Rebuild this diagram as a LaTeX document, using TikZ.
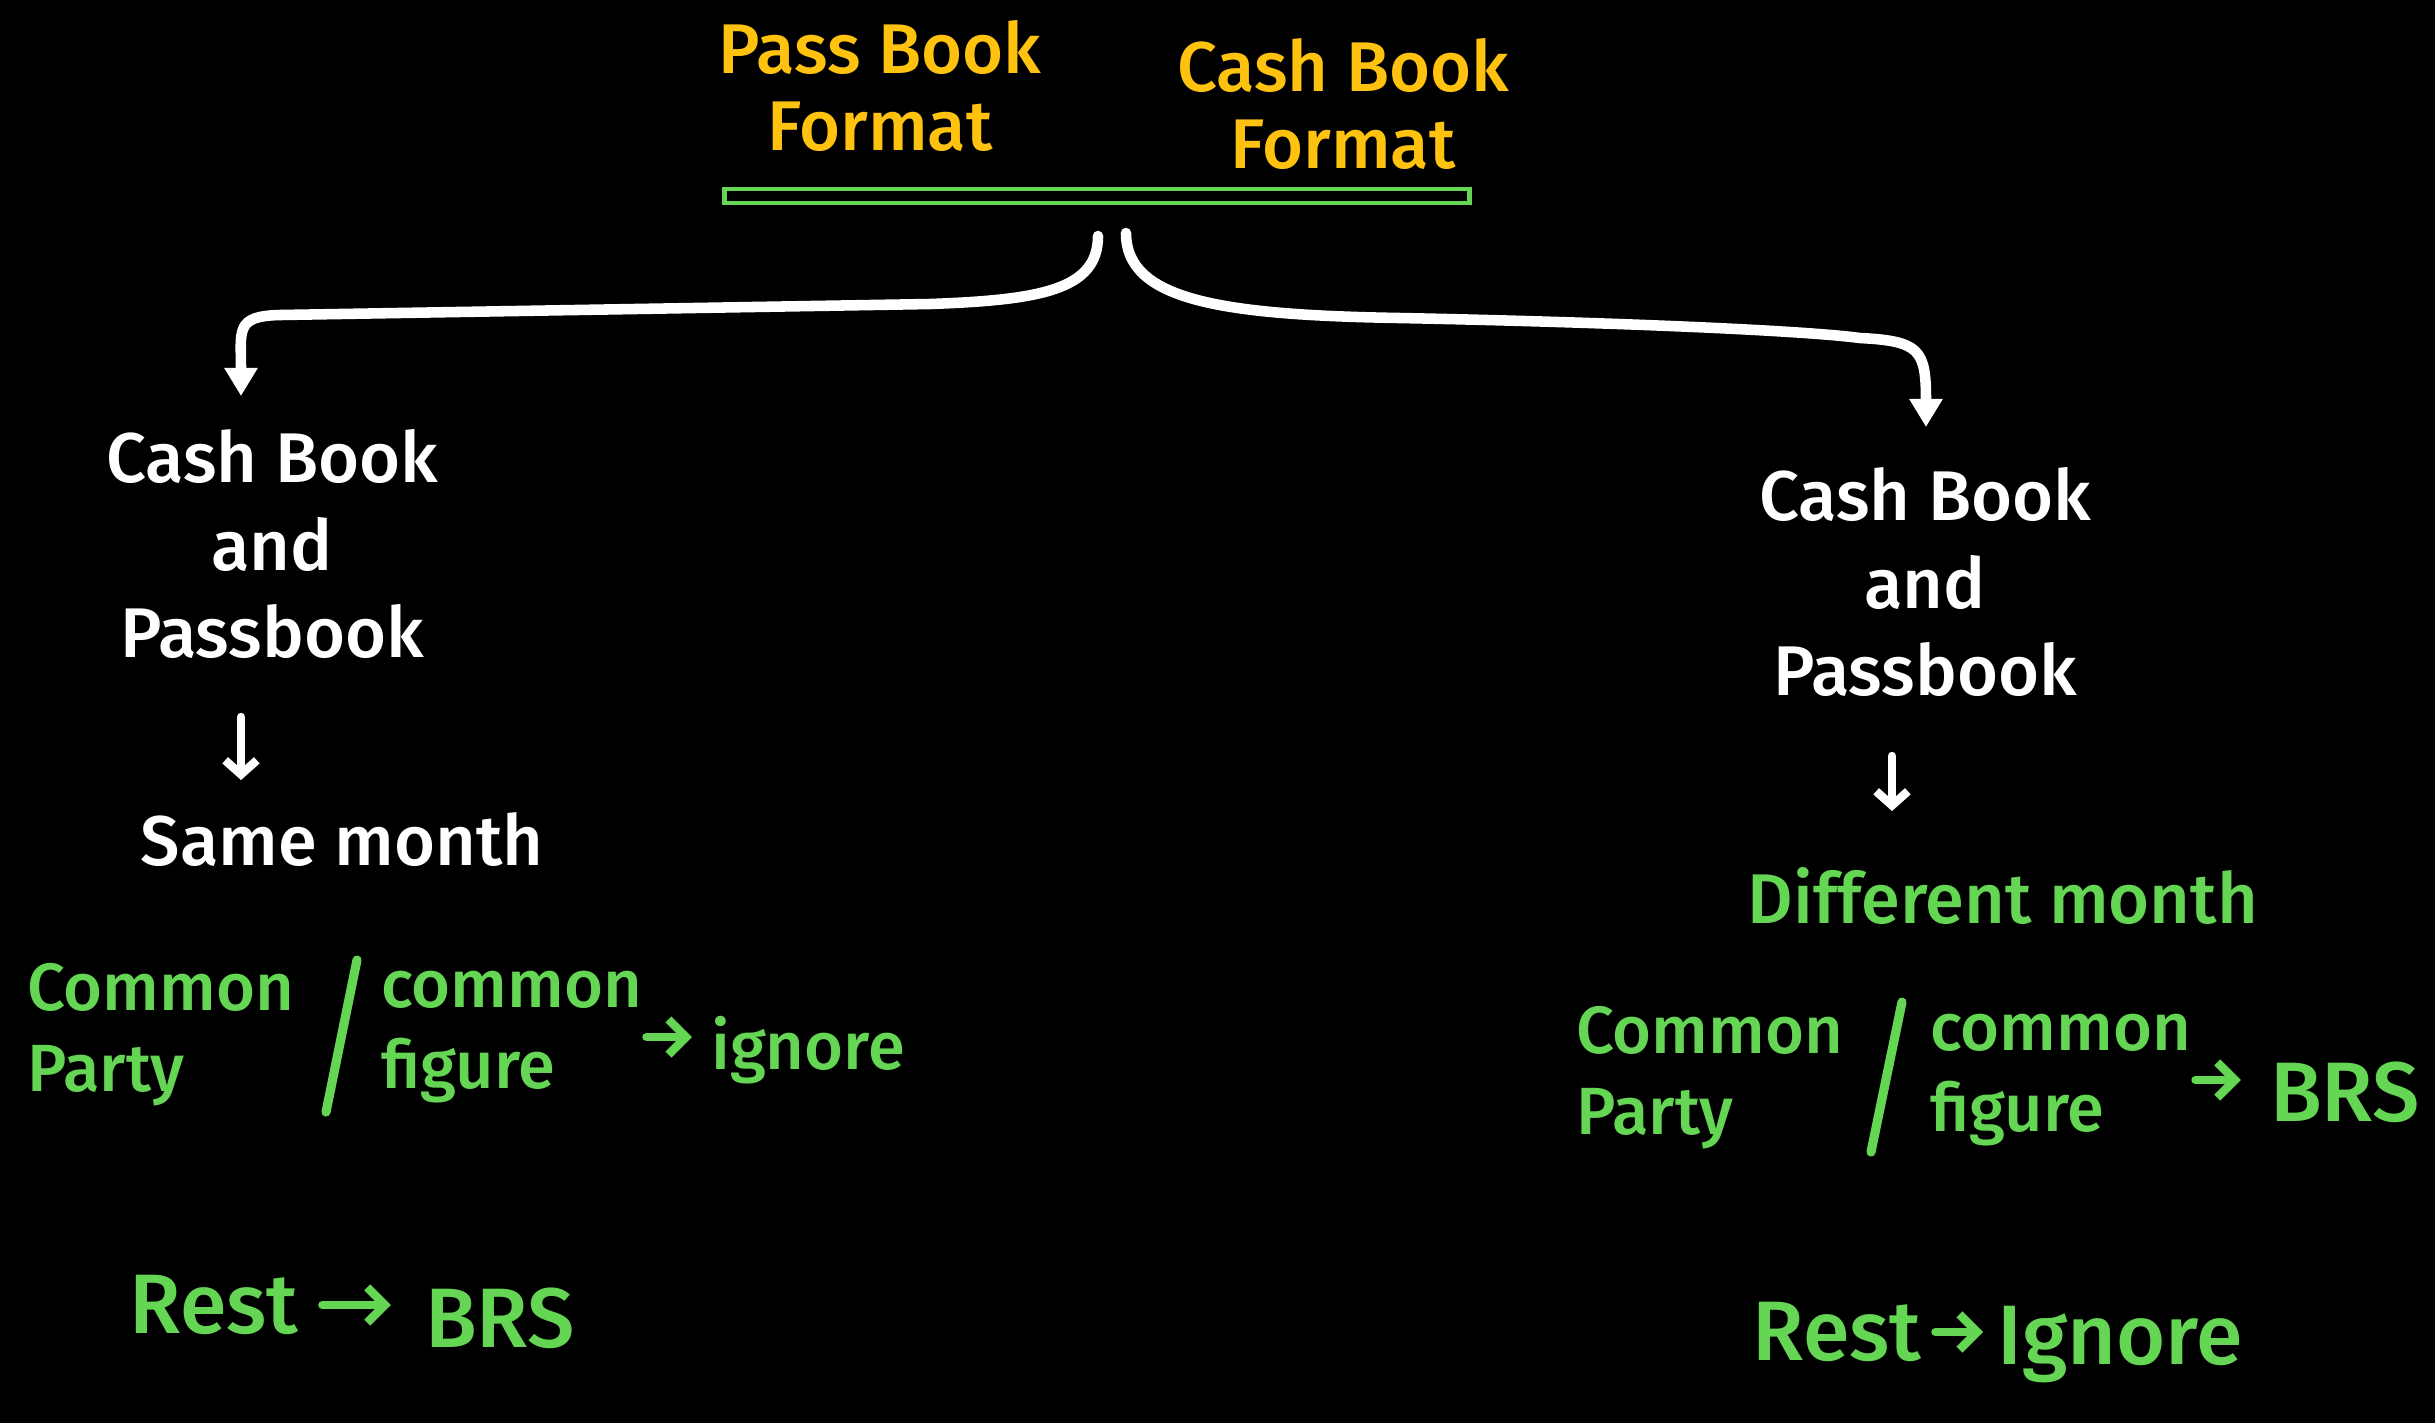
\documentclass[tikz,border=0pt]{standalone}
\usepackage{fontspec}
\setmainfont{Fira Sans}[UprightFont={* Medium}]
\usepackage{tikz}
\usetikzlibrary{arrows.meta}
\usepackage{xcolor}
\definecolor{markyellow}{RGB}{255,194,14}
\definecolor{markgreen}{RGB}{100,214,84}

\begin{document}
\begin{tikzpicture}[x=0.01cm, y=-0.01cm,
ytxt/.style={text=markyellow, align=center, font=\fontsize{20}{22}\selectfont, inner sep=1pt},
wtxt/.style={text=white, align=center, font=\fontsize{20}{25}\selectfont, inner sep=1pt},
gtxt/.style={text=markgreen, align=left, font=\fontsize{19}{23}\selectfont, inner sep=1pt},
gbig/.style={text=markgreen, font=\fontsize{24}{26}\selectfont, inner sep=1pt},
warr/.style={white, line width=3pt, line cap=round, -{Triangle[length=8pt,width=9pt]}},
wdown/.style={white, line width=2.4pt, line cap=round, -{Straight Barb[length=4pt,width=9pt]}},
garr/.style={markgreen, line width=2.4pt, line cap=round, -{Straight Barb[length=5pt,width=10pt]}},
slash/.style={markgreen, line width=2.6pt, line cap=round}]

\fill[black] (0,0) rectangle (2435,1423);
\useasboundingbox (0,0) rectangle (2435,1423);

% heading
{
\node[ytxt] (pbF) at (880,86) {Pass Book\\Format};
\node[ytxt] (cbF) at (1343,104) {Cash Book\\Format};

\node[draw=markgreen, line width=1.4pt, minimum width=7.44cm, minimum height=0.14cm, inner sep=0pt] (bar) at (1097,196) {};

\coordinate (sL) at (1098,236);
\coordinate (sR) at (1126,233);
\coordinate (tipL) at (241,396);
\coordinate (tipR) at (1926,427);

\draw[warr] (sL) .. controls (1098,290) and (1040,300) .. (930,304) -- (280,315) .. controls (235,316) and (241,330) .. (tipL);
\draw[warr] (sR) .. controls (1126,300) and (1220,315) .. (1400,318) .. controls (1600,322) and (1800,330) .. (1860,338) .. controls (1920,341) and (1926,350) .. (tipR);
}


% left side
{
\node[wtxt] (cbL) at (272,544) {Cash Book\\and\\Passbook};
\node[wtxt] (smL) at (342,840) {Same month};

\coordinate (dL) at (241,0);
\draw[wdown] (dL |- 0,717) -- (dL |- 0,780);

\node[gtxt, anchor=west] (cpL) at (23,1035) {Common\\Party};
\node[gtxt, anchor=west] (cfL) at (377,1037) {common\\figure};
\draw[slash] (357,960) -- (326,1112);
\node[gtxt] (igL) at (808,1050) {ignore};
\draw[garr, shorten >=0.15cm] (cfL.east) -- (cfL.east -| igL.west);

\node[gbig] (rsL) at (214,1305) {Rest};
\node[gbig] (brL) at (500,1318) {BRS};
\draw[garr, shorten <=0.2cm, shorten >=0.3cm] (rsL.east) -- (rsL.east -| brL.west);
}


% right side
{
\node[wtxt] (cbR) at (1925,582) {Cash Book\\and\\Passbook};
\node[gtxt, font=\fontsize{20}{23}\selectfont] (dmR) at (2003,896) {Different month};

\coordinate (dR) at (1892,0);
\draw[wdown] (dR |- 0,756) -- (dR |- 0,811);

\node[gtxt, anchor=west] (cpR) at (1572,1078) {Common\\Party};
\node[gtxt, anchor=west] (cfR) at (1926,1080) {common\\figure};
\draw[slash] (1902,1002) -- (1871,1152);
\node[gbig] (brR) at (2345,1092) {BRS};
\draw[garr, shorten >=0.25cm] (cfR.east) -- (cfR.east -| brR.west);

\node[gbig] (rsR) at (1837,1332) {Rest};
\node[gbig] (igR) at (2120,1345) {Ignore};
\draw[garr, shorten <=0.1cm, shorten >=0.1cm] (rsR.east) -- (rsR.east -| igR.west);
}

\end{tikzpicture}
\end{document}
